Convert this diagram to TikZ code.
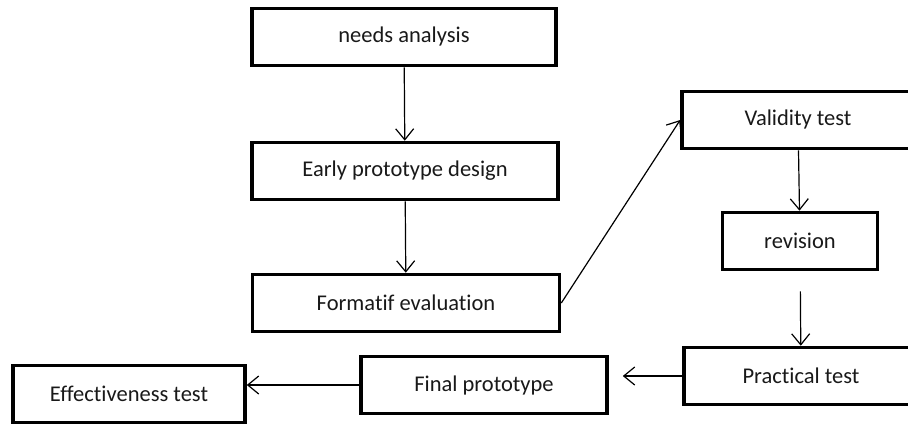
\documentclass[tikz,border=0pt]{standalone}
\usepackage{fontspec}
\setmainfont{Carlito}[Ligatures=NoCommon]
\usetikzlibrary{arrows.meta,positioning}

\begin{document}
\begin{tikzpicture}[x=1pt, y=-1pt, >={Straight Barb[length=11pt,width=18pt]}]
		\tikzstyle{box}=[draw, line width=3.6pt, inner sep=0pt, minimum height=57pt, text=black!90, font=\fontsize{22.5}{27}\selectfont]
		\path[use as bounding box, clip] (0,0) rectangle (908,425);
		
		\node[box, minimum width=304pt] (needs)    at (404,37)  {needs analysis};
		\node[box, minimum width=306pt] (early)    at (405,171) {Early prototype design};
		\node[box, minimum width=307pt] (formatif) at (406,303) {Formatif evaluation};
		\node[box, minimum width=232pt] (validity) at (798,120) {Validity test};
		\node[box, minimum width=155pt] (revision) at (800,241) {revision};
		\node[box, minimum width=234pt] (practical) at (801,376) {Practical test};
		\node[box, minimum width=246pt] (final)    at (484,385) {Final prototype};
		\node[box, minimum width=232pt] (effect)   at (129,394) {Effectiveness test};
		
		\path[->, line width=1.2pt]
		(needs) edge (early)
		(early) edge (formatif)
		(formatif.east) edge (validity.west)
		(validity) edge (revision)
		(revision) edge [shorten <=20pt] (practical)
		(practical.west) edge [shorten >=14pt] (practical.west -| final.east)
		(final.west) edge (final.west -| effect.east)
		;
\end{tikzpicture}
\end{document}
